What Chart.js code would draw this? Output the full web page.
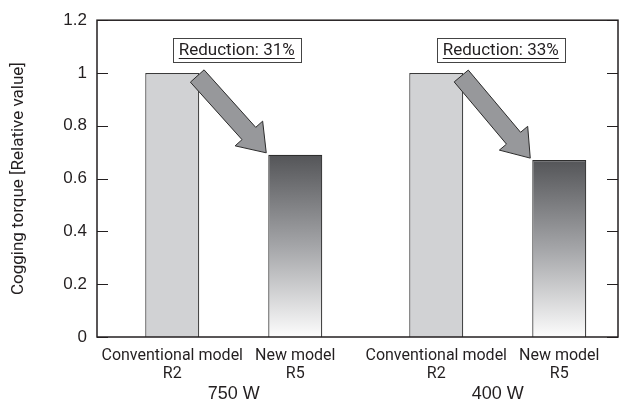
<!DOCTYPE html>
<html lang="en">
<head>
  <meta charset="UTF-8" />
  <title>Cogging torque</title>
  <script src="https://cdn.jsdelivr.net/npm/chart.js"></script>
  <style>
    html, body { margin: 0; padding: 0; background: #fff; }
    #wrap { width: 620px; height: 403px; position: relative; }
  </style>
</head>
<body>
  <div id="wrap"><canvas id="grafico"></canvas></div>
  <script>
    // data
    const groups = ["750 W", "400 W"];
    const modelNames = [["Conventional model", "R2"], ["New model", "R5"]];
    const conventional = [1, 1];
    const newModel = [0.69, 0.67];
    const reductions = ["Reduction: 31%", "Reduction: 33%"];
    const yTicks = [0, 0.2, 0.4, 0.6, 0.8, 1, 1.2];
    const yTitle = "Cogging torque [Relative value]";

    const ink = "#231f20";

    // condensed font if we have one, else a slightly smaller Roboto
    function hasFont(name) {
      const c = document.createElement("canvas").getContext("2d");
      c.font = "40px monospace";
      const w0 = c.measureText("Conventional model R5").width;
      c.font = `40px "${name}", monospace`;
      return c.measureText("Conventional model R5").width !== w0;
    }
    const narrowOk = hasFont("Liberation Sans Narrow");
    const narrow = (size) => narrowOk
      ? { family: '"Liberation Sans Narrow", sans-serif', size: size }
      : { family: "Roboto, sans-serif", size: Math.round(size * 0.88) };
    const fontStr = (f) => `${f.size}px ${f.family}`;

    function newModelFill(ctx) {
      const chart = ctx.chart;
      if (!chart.chartArea || !ctx.parsed) return "#888";
      const y = chart.scales.y;
      const top = y.getPixelForValue(ctx.parsed.y);
      const bottom = y.getPixelForValue(0);
      const g = chart.ctx.createLinearGradient(0, top, 0, bottom);
      g.addColorStop(0, "#545558");
      g.addColorStop(0.5, "#a4a5a8");
      g.addColorStop(1, "#fcfcfc");
      return g;
    }

    const decor = {
      id: "decor",
      afterDraw(chart) {
        const ctx = chart.ctx;
        const a = chart.chartArea;
        const y = chart.scales.y;
        const x = chart.scales.x;
        ctx.save();

        // frame
        ctx.strokeStyle = ink;
        ctx.lineWidth = 1.5;
        ctx.strokeRect(a.left, a.top, a.right - a.left, a.bottom - a.top);

        // inward ticks on both sides
        ctx.lineWidth = 1.2;
        y.ticks.forEach(t => {
          const py = Math.round(y.getPixelForValue(t.value)) + 0.5;
          ctx.beginPath();
          ctx.moveTo(a.left, py); ctx.lineTo(a.left + 11, py);
          ctx.moveTo(a.right, py); ctx.lineTo(a.right - 11, py);
          ctx.stroke();
        });

        const m0 = chart.getDatasetMeta(0).data;
        const m1 = chart.getDatasetMeta(1).data;

        // labels under the bars
        const lf = narrow(18);
        ctx.font = fontStr(lf);
        ctx.fillStyle = ink;
        ctx.textAlign = "center";
        ctx.textBaseline = "middle";
        [m0, m1].forEach((meta, k) => {
          meta.forEach(el => {
            ctx.fillText(modelNames[k][0], el.x, a.bottom + 19);
            ctx.fillText(modelNames[k][1], el.x, a.bottom + 37);
          });
        });

        // arrows from old bar to new bar
        m0.forEach((el, i) => {
          const b = m1[i];
          const tx = el.x + el.width / 2 - 2, ty = el.y + 3;
          const hx = b.x - b.width / 2 - 2, hy = b.y - 2;
          const len = Math.hypot(hx - tx, hy - ty);
          const dx = (hx - tx) / len, dy = (hy - ty) / len;
          const nx = dy, ny = -dx;
          const sw = 9.2, hw = 18.5, hl = 26;
          const bx = hx - dx * hl, by = hy - dy * hl;
          ctx.beginPath();
          ctx.moveTo(tx + nx * sw, ty + ny * sw);
          ctx.lineTo(bx + nx * sw, by + ny * sw);
          ctx.lineTo(bx + nx * hw, by + ny * hw);
          ctx.lineTo(hx, hy);
          ctx.lineTo(bx - nx * hw, by - ny * hw);
          ctx.lineTo(bx - nx * sw, by - ny * sw);
          ctx.lineTo(tx - nx * sw, ty - ny * sw);
          ctx.closePath();
          ctx.fillStyle = "#97989b";
          ctx.fill();
          ctx.strokeStyle = "#2b2b2b";
          ctx.lineWidth = 1;
          ctx.stroke();
        });

        // reduction boxes
        const bf = narrow(19);
        ctx.font = fontStr(bf);
        reductions.forEach((txt, i) => {
          const cx = x.getPixelForValue(i) + 3;
          const w = ctx.measureText(txt).width;
          const bw = w + 12, top = 38, bh = 24;
          ctx.fillStyle = "#fff";
          ctx.fillRect(cx - bw / 2, top, bw, bh);
          ctx.strokeStyle = "#444";
          ctx.lineWidth = 1;
          ctx.strokeRect(Math.round(cx - bw / 2) + 0.5, top + 0.5, Math.round(bw), bh);
          ctx.fillStyle = ink;
          ctx.textBaseline = "alphabetic";
          ctx.fillText(txt, cx, top + 17);
          ctx.beginPath();
          ctx.moveTo(cx - w / 2, top + 20.5);
          ctx.lineTo(cx + w / 2, top + 20.5);
          ctx.strokeStyle = ink;
          ctx.lineWidth = 1.2;
          ctx.stroke();
        });

        ctx.restore();
      }
    };

    const tf = narrow(19);

    new Chart(document.getElementById("grafico"), {
      type: "bar",
      data: {
        datasets: [
          {
            label: "Conventional model",
            data: groups.map((g, i) => ({ x: i, y: conventional[i] })),
            backgroundColor: "#d1d2d4",
            borderColor: "#3a3a3a",
            borderWidth: 1.2,
            borderSkipped: "bottom"
          },
          {
            label: "New model",
            data: groups.map((g, i) => ({ x: i, y: newModel[i] })),
            backgroundColor: newModelFill,
            borderColor: "#2e2e2e",
            borderWidth: 1.2,
            borderSkipped: "bottom"
          }
        ]
      },
      options: {
        responsive: true,
        maintainAspectRatio: false,
        animation: false,
        layout: { padding: { top: 16, right: 2, left: 0, bottom: 0 } },
        categoryPercentage: 0.932,
        barPercentage: 0.439,
        plugins: {
          legend: { display: false },
          tooltip: { enabled: false }
        },
        scales: {
          x: {
            type: "linear",
            offset: false,
            min: -0.518,
            max: 1.4555,
            grid: { display: false, drawTicks: false, offset: false },
            border: { display: false },
            afterBuildTicks: s => { s.ticks = groups.map((g, i) => ({ value: i })); },
            afterFit: s => { s.height = 66; },
            ticks: {
              padding: 46,
              color: ink,
              font: { family: '"Liberation Sans", Arial, sans-serif', size: 18 },
              callback: v => groups[v]
            }
          },
          y: {
            min: 0,
            max: 1.2,
            grid: { display: false, drawTicks: false },
            border: { display: false },
            afterBuildTicks: s => { s.ticks = yTicks.map(v => ({ value: v })); },
            afterFit: s => { s.width = 97; },
            ticks: {
              padding: 10,
              color: ink,
              font: { family: '"Liberation Sans", Arial, sans-serif', size: 17 },
              callback: v => String(v)
            },
            title: {
              display: true,
              text: yTitle,
              color: ink,
              padding: { top: 9, bottom: 0 },
              font: { family: tf.family, size: tf.size }
            }
          }
        }
      },
      plugins: [decor]
    });
  </script>
</body>
</html>
